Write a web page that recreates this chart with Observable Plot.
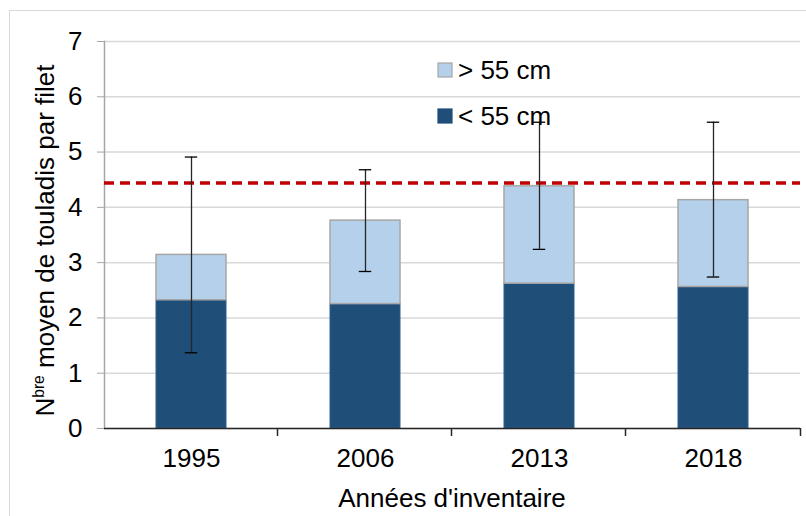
<!DOCTYPE html>
<html>
<head>
<meta charset="utf-8">
<script src="https://cdn.jsdelivr.net/npm/d3@7"></script>
<script src="https://cdn.jsdelivr.net/npm/@observablehq/plot@0.6"></script>
<style>
  html, body { margin: 0; padding: 0; background: #fff; }
  #chart { position: relative; width: 806px; height: 516px; }
</style>
</head>
<body>
<div id="chart"></div>
<script>
const years = ["1995", "2006", "2013", "2018"];
const small = [2.32, 2.25, 2.62, 2.56];      // < 55 cm
const total = [3.14, 3.76, 4.38, 4.13];      // total (top of > 55 cm)
const errLow = [1.37, 2.84, 3.24, 2.74];
const errHigh = [4.91, 4.68, 5.54, 5.54];
const threshold = 4.44;
const yTicks = [0, 1, 2, 3, 4, 5, 6, 7];
const seriesLabels = ["> 55 cm", "< 55 cm"];
const colors = {big: "#b4d0ea", small: "#1f4e79"};

const data = years.map((y, i) => ({year: y, small: small[i], total: total[i], lo: errLow[i], hi: errHigh[i]}));

const font = "Liberation Sans, Arial, sans-serif";
const fs = 26;

const plot = Plot.plot({
  width: 806,
  height: 516,
  marginLeft: 104,
  marginRight: 6,
  marginTop: 41,
  marginBottom: 88,
  style: {fontFamily: font, fontSize: fs + "px", color: "#000", background: "#fff"},
  x: {domain: years, paddingInner: 0.6, paddingOuter: 0.3, label: null},
  y: {domain: [0, 7], label: null},
  marks: [
    Plot.gridY(yTicks, {stroke: "#d9d9d9", strokeOpacity: 1, strokeWidth: 1.5}),
    Plot.frame({anchor: "left", stroke: "#a6a6a6", strokeWidth: 1.5}),
    Plot.axisY(yTicks, {tickSize: 7, tickPadding: 15, stroke: "#a6a6a6", fontSize: fs, fill: "#000", tickFormat: d => d}),
    Plot.barY(data, {x: "year", y1: 0, y2: "small", fill: colors.small, stroke: "#2e5f8c", strokeWidth: 1}),
    Plot.barY(data, {x: "year", y1: "small", y2: "total", fill: colors.big, stroke: "#a6a6a6", strokeWidth: 1.5}),
    Plot.ruleY([0], {stroke: "#262626", strokeWidth: 1.5}),
    Plot.axisX({tickSize: 0, tickPadding: 20, fontSize: fs, fill: "#000"}),
    Plot.ruleY([threshold], {stroke: "#c00000", strokeWidth: 3.5, strokeDasharray: "10,6"}),
    Plot.ruleX(data, {x: "year", y1: "lo", y2: "hi", stroke: "#262626", strokeWidth: 1.3}),
    Plot.tickY(data, {x: "year", y: "lo", stroke: "#000", strokeWidth: 1.3, insetLeft: 28.8, insetRight: 28.8}),
    Plot.tickY(data, {x: "year", y: "hi", stroke: "#000", strokeWidth: 1.3, insetLeft: 28.8, insetRight: 28.8})
  ]
});

const svg = d3.select(plot);
const sx = plot.scale("x");
const sy = plot.scale("y");
const step = sx.bandwidth / (1 - 0.6);
const y0 = sy.apply(0);

// category boundary ticks
const bounds = years.slice(1).map(y => sx.apply(y) - (step - sx.bandwidth) / 2);
bounds.push(sx.apply(years[years.length - 1]) + sx.bandwidth + (step - sx.bandwidth) / 2);
svg.append("g").selectAll("line").data(bounds).join("line")
  .attr("x1", d => d).attr("x2", d => d)
  .attr("y1", y0).attr("y2", y0 + 8)
  .attr("stroke", "#262626").attr("stroke-width", 1.5);

// outer border
svg.insert("rect", ":first-child")
  .attr("x", 9.5).attr("y", 10.5).attr("width", 800).attr("height", 520)
  .attr("fill", "none").attr("stroke", "#d9d9d9").attr("stroke-width", 1);

// x-axis title
const xr = sx.range;
svg.append("text")
  .attr("x", (xr[0] + xr[1]) / 2).attr("y", 507)
  .attr("text-anchor", "middle")
  .attr("font-family", font).attr("font-size", fs)
  .text("Années d'inventaire");

// y-axis title with superscript
const yr = sy.range;
const yt = svg.append("text")
  .attr("transform", `translate(54,${(yr[0] + yr[1]) / 2 + 6}) rotate(-90)`)
  .attr("text-anchor", "middle")
  .attr("font-family", font).attr("font-size", fs);
yt.append("tspan").text("N");
yt.append("tspan").attr("font-size", fs * 0.6).attr("dy", -10).text("bre");
yt.append("tspan").attr("dy", 10).text(" moyen de touladis par filet");

// legend
const lg = svg.append("g").attr("font-family", font).attr("font-size", fs).attr("text-anchor", "start");
const lx = 438;
const legendItems = [
  {label: seriesLabels[0], fill: colors.big, stroke: "#a6a6a6", cy: 70},
  {label: seriesLabels[1], fill: colors.small, stroke: colors.small, cy: 116}
];
legendItems.forEach(it => {
  lg.append("rect").attr("x", lx).attr("y", it.cy - 7).attr("width", 14).attr("height", 14)
    .attr("fill", it.fill).attr("stroke", it.stroke).attr("stroke-width", 1.2);
  lg.append("text").attr("x", lx + 20).attr("y", it.cy + 9).text(it.label);
});

document.getElementById("chart").appendChild(plot);
</script>
</body>
</html>
